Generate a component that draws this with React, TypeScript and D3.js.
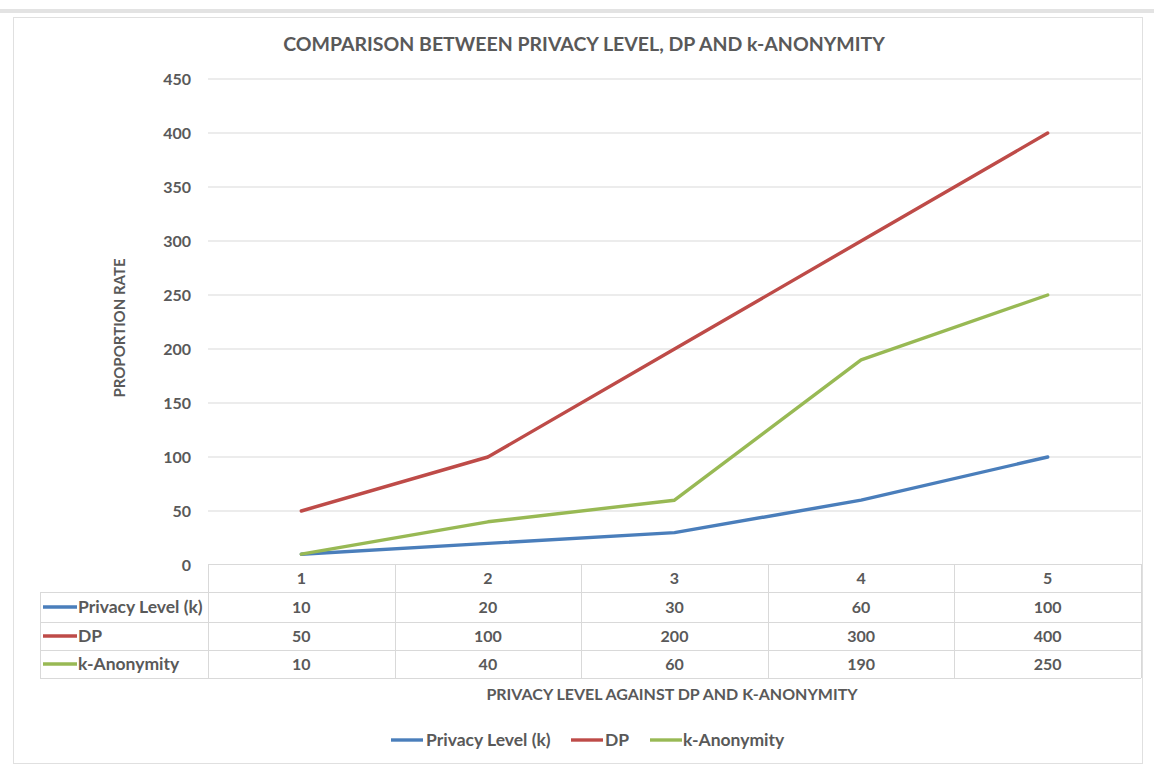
import React from "react";
import * as d3 from "d3";

const categories = ["1", "2", "3", "4", "5"];
const privacyLevel = [10, 20, 30, 60, 100];
const dpValues = [50, 100, 200, 300, 400];
const kAnonymity = [10, 40, 60, 190, 250];
const seriesNames = ["Privacy Level (k)", "DP", "k-Anonymity"];
const seriesColors = ["#4A7EBB", "#BE4B48", "#98B954"];

const W = 1154;
const H = 765;
const FONT = "Lato, 'Open Sans', sans-serif";
const TEXT = "#595959";
const GRID = "#D9D9D9";

export default function App() {
  const series = [privacyLevel, dpValues, kAnonymity];
  const x = d3.scaleBand<string>().domain(categories).range([208, 1141]).padding(0);
  const y = d3.scaleLinear().domain([0, 450]).range([565, 79]);
  const cx = (c: string) => (x(c) as number) + x.bandwidth() / 2;
  const line = d3
    .line<number>()
    .x((_, i) => cx(categories[i]))
    .y((d) => y(d))
    .curve(d3.curveLinear);

  const tableLeft = 40;
  const colLeft = 208;
  const right = 1141;
  const rowTops = [564, 592, 622, 650, 678];

  return (
    <svg
      width={W}
      height={H}
      style={{ position: "absolute", left: 0, top: 0, background: "#fff" }}
      fontFamily={FONT}
    >
      <rect x={0} y={0} width={W} height={H} fill="#fff" />
      <rect x={0} y={9} width={W} height={4} fill="#E3E3E3" />
      <rect x={13.5} y={17.5} width={1129} height={746} fill="#fff" stroke="#E0E0E0" />

      <text x={584} y={51} textAnchor="middle" fontSize={19.5} fontWeight={700} fill={TEXT}>
        COMPARISON BETWEEN PRIVACY LEVEL, DP AND k-ANONYMITY
      </text>

      {/* gridlines and y ticks */}
      {y.ticks(9).map((t) => (
        <g key={t}>
          {t > 0 && (
            <line x1={colLeft} x2={right} y1={y(t)} y2={y(t)} stroke={GRID} strokeWidth={1} />
          )}
          <text
            x={191}
            y={y(t)}
            dy="0.35em"
            textAnchor="end"
            fontSize={16}
            fontWeight={700}
            fill={TEXT}
          >
            {t}
          </text>
        </g>
      ))}

      <text
        transform={`translate(125,328) rotate(-90)`}
        textAnchor="middle"
        fontSize={15}
        fontWeight={700}
        fill={TEXT}
      >
        PROPORTION RATE
      </text>

      {/* series lines */}
      {series.map((vals, i) => (
        <path
          key={seriesNames[i]}
          d={line(vals) as string}
          fill="none"
          stroke={seriesColors[i]}
          strokeWidth={3.4}
          strokeLinejoin="round"
          strokeLinecap="round"
        />
      ))}

      {/* data table */}
      <g stroke={GRID} strokeWidth={1} fill="none">
        <line x1={colLeft} x2={right} y1={rowTops[0] + 0.5} y2={rowTops[0] + 0.5} />
        {rowTops.slice(1).map((ry) => (
          <line key={ry} x1={tableLeft} x2={right} y1={ry + 0.5} y2={ry + 0.5} />
        ))}
        <line x1={tableLeft + 0.5} x2={tableLeft + 0.5} y1={rowTops[1]} y2={rowTops[4]} />
        {categories.map((c) => (
          <line
            key={c}
            x1={Math.round(x(c) as number) + 0.5}
            x2={Math.round(x(c) as number) + 0.5}
            y1={rowTops[0]}
            y2={rowTops[4]}
          />
        ))}
        <line x1={right + 0.5} x2={right + 0.5} y1={rowTops[0]} y2={rowTops[4]} />
      </g>

      {categories.map((c) => (
        <text
          key={c}
          x={cx(c)}
          y={(rowTops[0] + rowTops[1]) / 2}
          dy="0.35em"
          textAnchor="middle"
          fontSize={16}
          fontWeight={700}
          fill={TEXT}
        >
          {c}
        </text>
      ))}

      {series.map((vals, i) => {
        const mid = (rowTops[i + 1] + rowTops[i + 2]) / 2;
        return (
          <g key={seriesNames[i]}>
            <line x1={43} x2={77} y1={mid} y2={mid} stroke={seriesColors[i]} strokeWidth={3.4} />
            <text x={78} y={mid} dy="0.35em" fontSize={17.5} fontWeight={700} fill={TEXT}>
              {seriesNames[i]}
            </text>
            {vals.map((v, j) => (
              <text
                key={j}
                x={cx(categories[j])}
                y={mid}
                dy="0.35em"
                textAnchor="middle"
                fontSize={16}
                fontWeight={700}
                fill={TEXT}
              >
                {v}
              </text>
            ))}
          </g>
        );
      })}

      <text x={672} y={700} textAnchor="middle" fontSize={16} fontWeight={700} fill={TEXT}>
        PRIVACY LEVEL AGAINST DP AND K-ANONYMITY
      </text>

      {/* legend */}
      {[
        { lx: 391, tx: 426 },
        { lx: 571, tx: 605 },
        { lx: 650, tx: 683 },
      ].map((p, i) => (
        <g key={seriesNames[i]}>
          <line x1={p.lx} x2={p.lx + 32} y1={740} y2={740} stroke={seriesColors[i]} strokeWidth={3.4} />
          <text x={p.tx} y={740} dy="0.35em" fontSize={17.5} fontWeight={700} fill={TEXT}>
            {seriesNames[i]}
          </text>
        </g>
      ))}
    </svg>
  );
}
